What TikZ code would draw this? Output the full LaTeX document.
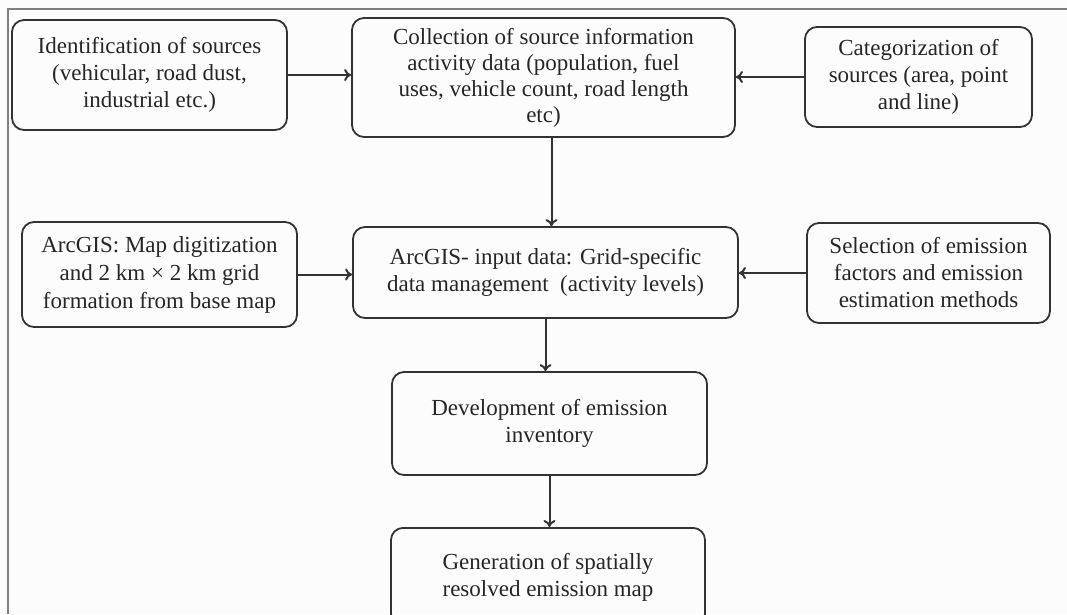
\documentclass[tikz,border=0pt]{standalone}
\usepackage{fontspec}
\setmainfont{Liberation Serif}
\usetikzlibrary{arrows.meta}
\begin{document}
\begin{tikzpicture}[x=1pt,y=-1pt,
  box/.style={draw=black!80, line width=1.8pt, rounded corners=12pt, align=center,
    inner sep=0pt, text=black!85, font=\fontsize{23}{27}\selectfont},
  conn/.style={draw=black!80, line width=2pt, -{To[length=7pt,width=12pt]}},
  frameline/.style={draw=black!50, line width=2.5pt}]
\useasboundingbox (0,0) rectangle (1067,614);
\clip (0,0) rectangle (1067,614);
\fill[white!99!black] (0,0) rectangle (1067,614);
\draw[frameline] (8,614) -- (8,9) -- (1067,9);
\node[box, minimum width=275pt, minimum height=110pt] (a) at (149.5,75)
  {Identification of sources\\(vehicular, road dust,\\industrial etc.)};
\node[box, minimum width=383pt, minimum height=119pt, font=\fontsize{23}{26}\selectfont] (b) at (543.5,77.5)
  {Collection of source information\\activity data (population, fuel\\uses, vehicle count, road length\\etc)};
\node[box, minimum width=227pt, minimum height=100pt] (c) at (918.5,77)
  {Categorization of\\sources (area,  point\\and line)};
\node[box, minimum width=275pt, minimum height=105pt, font=\fontsize{23}{28}\selectfont] (d) at (159.5,274.5)
  {ArcGIS: Map digitization\\and 2 km × 2 km grid\\formation from base map};
\node[box, minimum width=385pt, minimum height=91pt] (e) at (545.5,272.5)
  {ArcGIS- input data: Grid-specific\\data management \ (activity levels)};
\node[box, minimum width=243pt, minimum height=100pt] (f) at (928.5,273)
  {Selection of emission\\factors and emission\\estimation methods};
\node[box, minimum width=315pt, minimum height=103pt] (g) at (549.5,423.5)
  {Development of emission\\inventory};
\node[box, minimum width=314pt, minimum height=98pt, anchor=north] (h) at (548,527)
  {Generation of spatially\\resolved emission map};
\draw[conn] (a.east) -- (a.east -| b.west);
\draw[conn] (c.west) -- (c.west -| b.east);
\draw[conn] ([xshift=8pt]b.south) -- ([xshift=8pt]b.south |- e.north);
\draw[conn] (d.east) -- (d.east -| e.west);
\draw[conn] (f.west) -- (f.west -| e.east);
\draw[conn] (e.south) -- (e.south |- g.north);
\draw[conn] (g.south) -- (g.south |- h.north);
\end{tikzpicture}
\end{document}
